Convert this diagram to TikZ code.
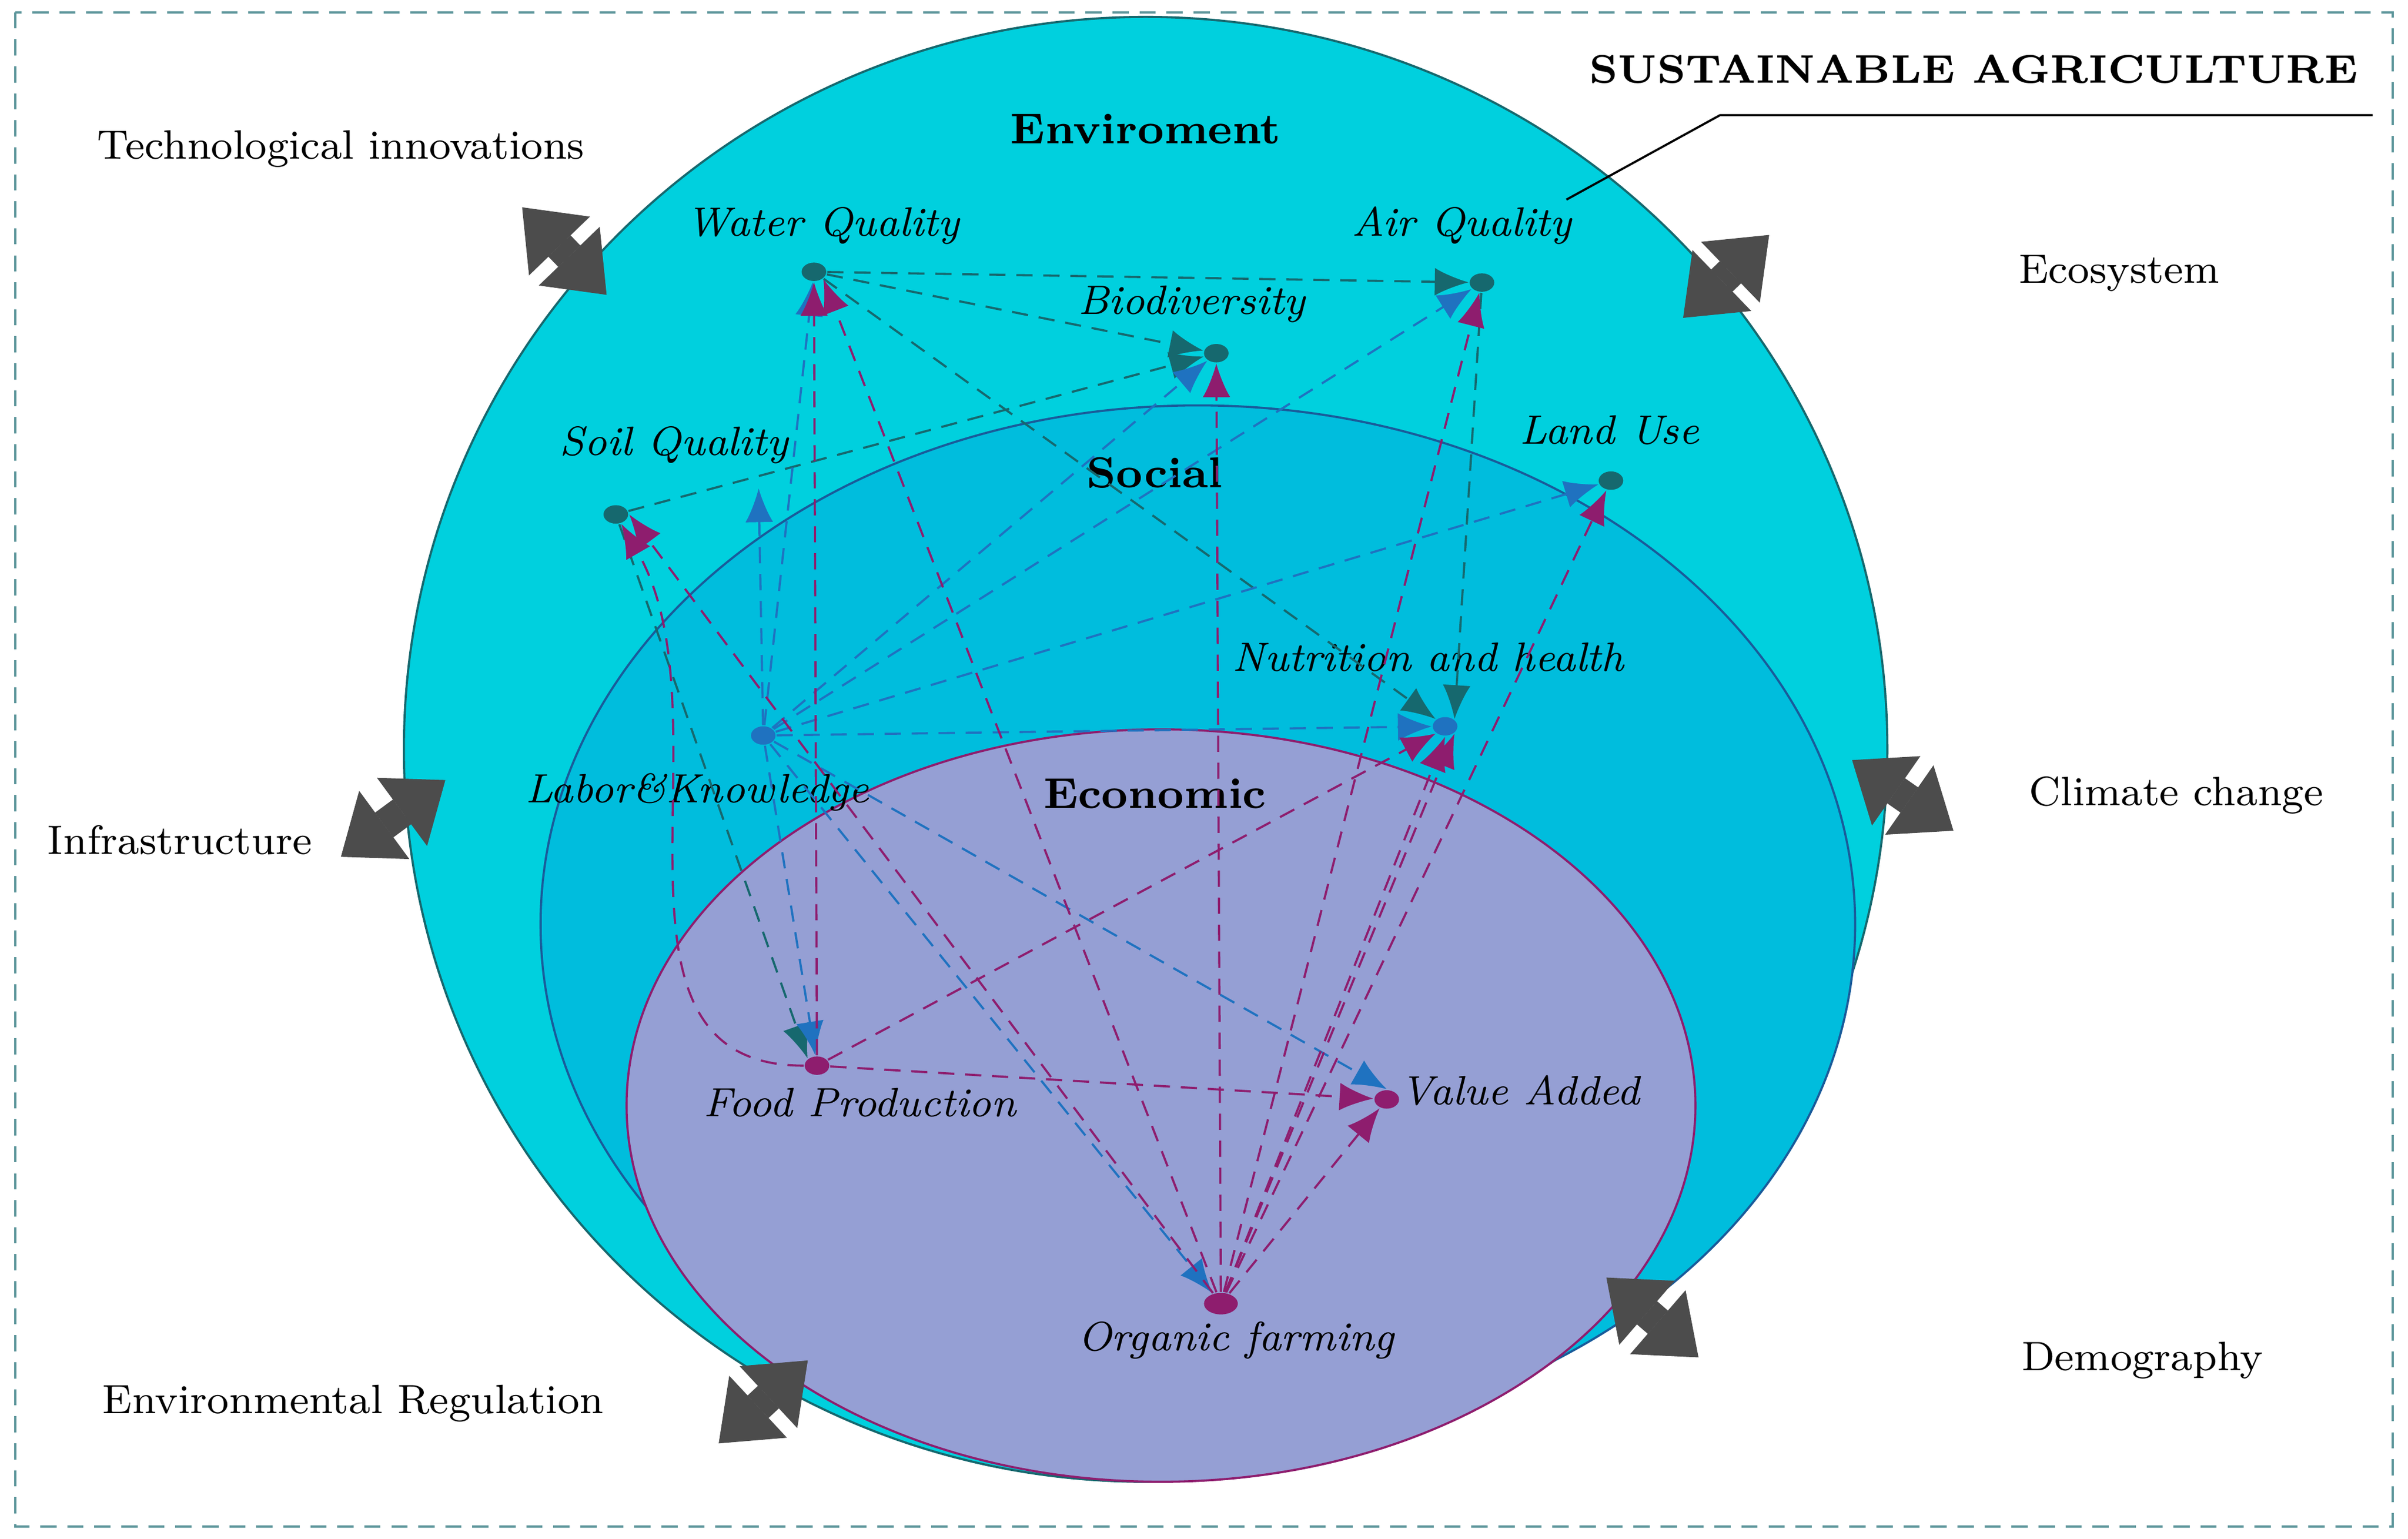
\documentclass[tikz,border=0pt]{standalone}
\usetikzlibrary{arrows.meta,shapes.geometric}
\definecolor{envcol}{HTML}{00D0DE}
\definecolor{soccol}{HTML}{00BDDD}
\definecolor{ecocol}{HTML}{959FD4}
\definecolor{teal}{HTML}{16686E}
\definecolor{blu}{HTML}{1F72C0}
\definecolor{mag}{HTML}{8E1D6E}
\tikzset{
  dot/.style={ellipse, minimum width=0.16cm, minimum height=0.12cm, inner sep=0pt, fill=#1},
  lbl/.style={font=\fontsize{7.6}{9}\selectfont\itshape},
  ttl/.style={font=\fontsize{8}{10}\selectfont\bfseries},
  factor/.style={font=\fontsize{7.6}{9}\selectfont},
  lnk/.style={densely dashed, #1, -{Latex[length=2.2mm,width=1.8mm]}},
  dbl/.style={line width=2mm, draw=gray!60!black,
    {Triangle[length=3.5mm,width=5.5mm,line width=0.1pt]}-{Triangle[length=3.5mm,width=5.5mm,line width=0.1pt]}},
}
\begin{document}
\begin{tikzpicture}[x=0.01cm, y=-0.01cm]
\useasboundingbox (0,0) rectangle (1568,1002);
\draw [densely dashed, teal!70] (10,8) rectangle (1558,994);
% spheres
\draw [fill=envcol, draw=teal] (746,488) ellipse (483 and 477);
\draw [fill=soccol, draw=blu!80!black] (780,602) ellipse (428 and 338);
\draw [fill=ecocol, draw=mag] (756,720) ellipse (348 and 245);
\node [ttl] (env) at (746,84) {Enviroment};
\node [ttl] (soc) at (752,308) {Social};
\node [ttl] (eco) at (752,517) {Economic};
% title
\node [ttl, anchor=east, font=\fontsize{7.4}{9}\selectfont\bfseries] (sa) at (1548,45) {SUSTAINABLE AGRICULTURE};
\coordinate (saL) at (1120,75);
\coordinate (saR) at (1545,75);
\coordinate (saP) at (1020,130);
\draw (saR) -- (saL) -- (saP);
% outer factors
\node [factor] (tech) at (222,97) {Technological innovations};
\node [factor] (ecos) at (1380,178) {Ecosystem};
\node [factor] (infr) at (117,547) {Infrastructure};
\node [factor] (clim) at (1417,518) {Climate change};
\node [factor] (reg) at (230,914) {Environmental Regulation};
\node [factor] (demo) at (1395,886) {Demography};
\foreach \a/\b in {{(340,135)}/{(395,192)}, {(1152,153)}/{(1096,207)},
  {(290,508)}/{(222,558)}, {(1206,495)}/{(1272,541)},
  {(526,886)}/{(468,940)}, {(1046,832)}/{(1106,884)}}
  \draw [dbl] \a -- \b;
% indicators
\node [dot=teal] (wq) at (530,177) {};
\node [lbl] at (536,147) {Water Quality};
\node [dot=teal] (aq) at (965,184) {};
\node [lbl] at (952,147) {Air Quality};
\node [dot=teal] (bd) at (792,230) {};
\node [lbl] at (776,198) {Biodiversity};
\node [dot=teal] (sq) at (401,335) {};
\node [lbl] at (439,290) {Soil Quality};
\node [dot=teal] (lu) at (1049,313) {};
\node [lbl] at (1048,280) {Land Use};
\node [dot=blu] (nh) at (941,473) {};
\node [lbl] at (930,428) {Nutrition and health};
\node [dot=blu] (lk) at (497,479) {};
\node [lbl] at (454,516) {Labor\&Knowledge};
\node [dot=mag] (fp) at (532,694) {};
\node [lbl] at (560,718) {Food Production};
\node [dot=mag] (va) at (903,716) {};
\node [lbl] at (990,710) {Value Added};
\node [dot=mag, minimum width=0.22cm, minimum height=0.14cm] (of) at (795,849) {};
\node [lbl] at (805,873) {Organic farming};
\coordinate (sqlbl) at (494,318);
% environment links
\draw [lnk=teal] (wq) -- (aq);
\draw [lnk=teal] (wq) -- (bd);
\draw [lnk=teal] (wq) -- (nh.north west);
\draw [lnk=teal] (aq) -- (nh.north east);
\draw [lnk=teal] (sq) -- (bd);
\draw [lnk=teal] (sq) -- (fp.north west);
% social links
\draw [lnk=blu] (lk) -- (wq);
\draw [lnk=blu] (lk) -- (sqlbl);
\draw [lnk=blu] (lk) -- (bd);
\draw [lnk=blu] (lk) -- (aq);
\draw [lnk=blu] (lk) -- (lu);
\draw [lnk=blu] (lk) -- (nh);
\draw [lnk=blu] (lk) -- (va.north);
\draw [lnk=blu] (lk) -- (of);
\draw [lnk=blu] (lk) -- (fp);
% economic links
\draw [lnk=mag] (fp) -- (wq);
\draw [lnk=mag] (fp) to [out=180, in=-60] (sq);
\draw [lnk=mag] (fp) -- (va);
\draw [lnk=mag] (fp) -- (nh.south west);
\draw [lnk=mag] (of) -- (wq.south east);
\draw [lnk=mag] (of) -- (sq.east);
\draw [lnk=mag] (of) -- (bd);
\draw [lnk=mag] (of) -- (aq);
\draw [lnk=mag] (of) -- (lu);
\draw [lnk=mag] (of) -- (nh.south);
\draw [lnk=mag] (of) -- (nh.south east);
\draw [lnk=mag] (of) -- (va);
\end{tikzpicture}
\end{document}
